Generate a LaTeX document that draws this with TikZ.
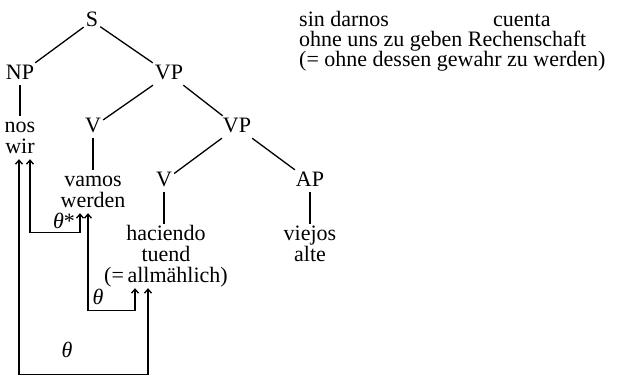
\documentclass[tikz,border=0pt]{standalone}
\usepackage{fontspec}
\setmainfont{Liberation Serif}
\usetikzlibrary{arrows.meta}
\tikzset{
  lbl/.style={font=\fontsize{22}{24}\selectfont, inner sep=2pt, anchor=base, text height=14pt, text depth=4pt},
  rtext/.style={font=\fontsize{22}{24}\selectfont, inner sep=0pt, anchor=base west},
  edge/.style={line width=1.3pt},
  arr/.style={line width=1.3pt, {Straight Barb[length=4pt,width=7pt]}-{Straight Barb[length=4pt,width=7pt]}},
}
\begin{document}
\begin{tikzpicture}[x=1pt,y=-1pt]
\useasboundingbox (0,0) rectangle (640,376);
% tree nodes
\node[lbl] (S) at (92,26) {S};
\node[lbl] (NP) at (20,79) {NP};
\node[lbl] (VP) at (169,79) {VP};
\node[lbl] (nos) at (20,132) {nos};
\node[lbl] (wir) at (20,153) {wir};
\node[lbl] (V1) at (93,132) {V};
\node[lbl] (VP2) at (237,132) {VP};
\node[lbl] (vamos) at (93,186) {vamos};
\node[lbl] (werden) at (93,207) {werden};
\node[lbl] (V2) at (164,186) {V};
\node[lbl] (AP) at (310,186) {AP};
\node[lbl] (haciendo) at (166,240) {haciendo};
\node[lbl] (tuend) at (166,261) {tuend};
\node[lbl] (allm) at (166,282) {(=\,allmählich)};
\node[lbl] (viejos) at (310,240) {viejos};
\node[lbl] (alte) at (310,261) {alte};
% edges
\draw[edge] (S) -- (NP);
\draw[edge] (S) -- (VP);
\draw[edge] (NP.south) -- (nos.north);
\draw[edge] (VP) -- (V1);
\draw[edge] (VP) -- (VP2);
\draw[edge] (V1.south) -- (vamos.north);
\draw[edge] (VP2) -- (V2);
\draw[edge] (VP2) -- (AP);
\draw[edge] (V2.south) -- (V2.south |- haciendo.north);
\draw[edge] (AP.south) -- (viejos.north);
% arrow tips
\coordinate (a1) at ([xshift=-1pt]wir.south);
\coordinate (a2) at ([xshift=10pt]wir.south);
\coordinate (b1) at ([xshift=-13pt]werden.south);
\coordinate (b2) at ([xshift=-5pt]werden.south);
\coordinate (c1) at ([xshift=-31pt]allm.south);
\coordinate (c2) at ([xshift=-18pt]allm.south);
\coordinate (k1) at ([yshift=-19pt]b1);
\coordinate (k2) at ([yshift=-22pt]c1);
\coordinate (k3) at ([yshift=-86pt]c2);
\draw[arr] (a2) |- (k1) -- (b1);
\draw[arr] (b2) |- (k2) -- (c1);
\draw[arr] (a1) |- (k3) -- (c2);
% theta labels
\node[rtext, anchor=base] (t1) at (64,228) {\textit{θ}*};
\node[rtext, anchor=base] (t2) at (98,304) {\textit{θ}};
\node[rtext, anchor=base] (t3) at (67,357) {\textit{θ}};
% right text
\node[rtext] (r1) at (299,26) {sin darnos};
\node[rtext] (r1b) at (493,26) {cuenta};
\node[rtext] (r2) at (299,46) {ohne uns zu geben Rechenschaft};
\node[rtext] (r3) at (299,66) {(= ohne dessen gewahr zu werden)};
\end{tikzpicture}
\end{document}
